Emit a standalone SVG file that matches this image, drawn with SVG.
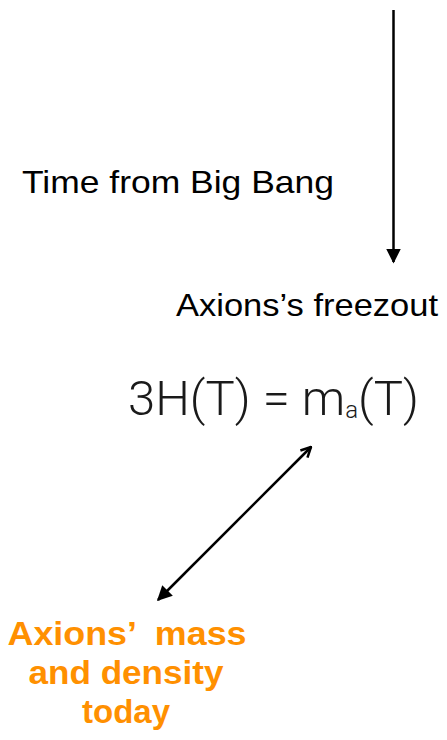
<svg xmlns="http://www.w3.org/2000/svg" width="447" height="740" viewBox="0 0 447 740">
<style>
.lbl{font-family:"Liberation Sans",Arial,sans-serif;font-size:32px;fill:#000}
.eq{font-family:Roboto,"Liberation Sans",sans-serif;font-weight:300;font-size:49px;fill:#1a1a1a}
.org{font-family:"Liberation Sans",Arial,sans-serif;font-weight:bold;font-size:33px;fill:#ff9000;text-anchor:middle;white-space:pre}
.conn{stroke:#000;stroke-width:2.5;fill:none}
</style>
<defs>
<marker id="fill" viewBox="0 0 10 10" refX="9" refY="5" markerWidth="6" markerHeight="6" orient="auto-start-reverse" markerUnits="strokeWidth">
<path d="M0,0 L10,5 L0,10 z" fill="#000"/>
</marker>
<marker id="open" viewBox="0 0 10 10" refX="9" refY="5" markerWidth="5" markerHeight="5" orient="auto" markerUnits="strokeWidth">
<path d="M1,1 L9,5 L1,9" fill="none" stroke="#000" stroke-width="2"/>
</marker>
</defs>
<g id="connectors">
<line class="conn" x1="393.5" y1="10" x2="393.5" y2="262" marker-end="url(#fill)"/>
<line class="conn" x1="158" y1="600" x2="311" y2="447" marker-start="url(#fill)" marker-end="url(#open)"/>
</g>
<g id="time"><text class="lbl" x="22" y="193" textLength="312" lengthAdjust="spacingAndGlyphs">Time from Big Bang</text></g>
<g id="freezout"><text class="lbl" x="176" y="316" textLength="262" lengthAdjust="spacingAndGlyphs">Axions’s freezout</text></g>
<g id="equation"><text class="eq" x="128" y="415">3H(T) = m<tspan font-size="24" dy="3">a</tspan><tspan dy="-3">(T)</tspan></text></g>
<g id="today">
<text class="org" x="127" y="645" textLength="239" lengthAdjust="spacingAndGlyphs" xml:space="preserve">Axions’  mass</text>
<text class="org" x="126" y="684" textLength="195" lengthAdjust="spacingAndGlyphs">and density</text>
<text class="org" x="126" y="723">today</text>
</g>
</svg>
